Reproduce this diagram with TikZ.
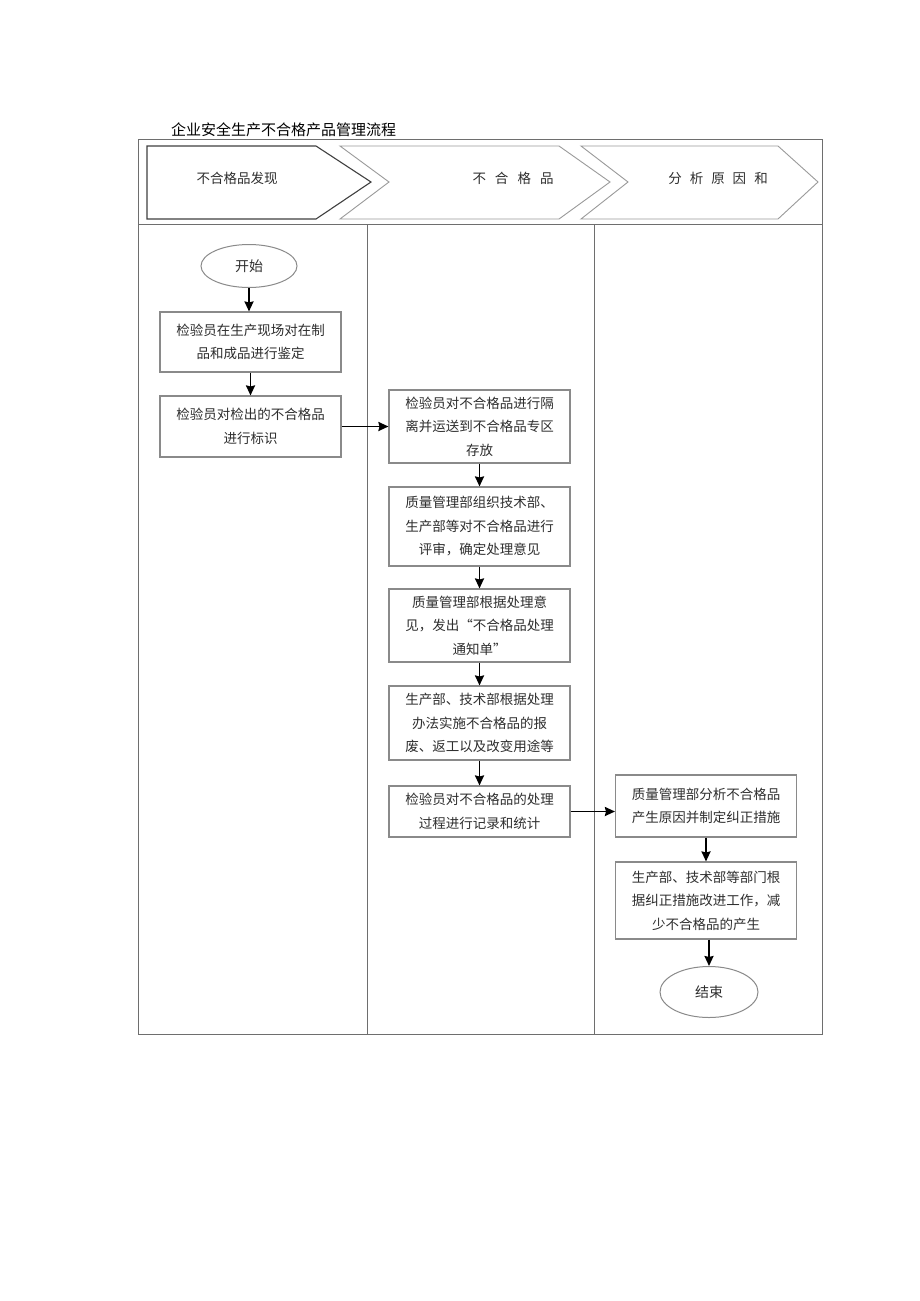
\documentclass[tikz,border=0pt]{standalone}
\usepackage{fontspec}
\newfontfamily\cjk{Noto Sans CJK SC}
\usetikzlibrary{shapes.geometric,arrows.meta}
\definecolor{framegray}{HTML}{6E6E6E}
\definecolor{boxgray}{HTML}{8A8A8A}
\definecolor{chevgray}{HTML}{9A9A9A}
\definecolor{txt}{HTML}{2E2E2E}
\begin{document}
\begin{tikzpicture}[x=1pt,y=-1pt,
  flowbox/.style={draw=boxgray, line width=1.1pt, rectangle, minimum width=181, inner sep=0pt,
    align=center, text=txt, font=\cjk\fontsize{13.5}{23.5}\selectfont},
  oval/.style={draw=boxgray, line width=1pt, ellipse, minimum width=96, minimum height=43,
    inner sep=0pt, text=txt, font=\cjk\fontsize{14}{16}\selectfont},
  arr/.style={draw=black, line width=1.9pt, -{Stealth[length=10pt,width=9pt,inset=1pt]}},
  headtxt/.style={text=txt, font=\cjk\fontsize{13.5}{16}\selectfont, inner sep=0pt},
  lane/.style={draw=framegray, line width=0.9pt}]
\useasboundingbox (0,0) rectangle (920,1301);
\fill[white] (0,0) rectangle (920,1301);

% title
\node[anchor=west, inner sep=0pt, font=\cjk\fontsize{15}{17}\selectfont, text=black] (title) at (171,130) {企业安全生产不合格产品管理流程};

% frame and lanes
\draw[lane] (138,139) rectangle (822,1034);
\draw[lane] (138,224) -- (822,224);
\draw[lane] (367,224) -- (367,1034);
\draw[lane] (594,224) -- (594,1034);

% header chevrons
\draw[line width=1.1pt, draw=black!75] (147,146) -- (316,146) -- (371,182) -- (316,219) -- (147,219) -- cycle;
\draw[line width=0.9pt, draw=chevgray] (340,146) -- (559,146) -- (610,182) -- (559,219) -- (340,219) -- (389,182) -- cycle;
\draw[line width=0.9pt, draw=chevgray] (581,146) -- (778,146) -- (818,182) -- (778,219) -- (581,219) -- (628,182) -- cycle;
\node[headtxt] (h1) at (237,178) {不合格品发现};
\node[headtxt] (h2) at (513,178) {不\hspace{9pt}合\hspace{9pt}格\hspace{9pt}品};
\node[headtxt] (h3) at (718,178) {分\hspace{8pt}析\hspace{8pt}原\hspace{8pt}因\hspace{8pt}和};

% lane 1
\node[oval] (start) at (249,266) {开始};
\node[flowbox, minimum height=60] (b1) at (250.5,342) {检验员在生产现场对在制\\品和成品进行鉴定};
\node[flowbox, minimum height=61] (b2) at (250.5,426.5) {检验员对检出的不合格品\\进行标识};

% lane 2
\node[flowbox, minimum height=73] (b3) at (479.5,426.5) {检验员对不合格品进行隔\\离并运送到不合格品专区\\存放};
\node[flowbox, minimum height=79] (b4) at (479.5,526.5) {质量管理部组织技术部、\\生产部等对不合格品进行\\评审，确定处理意见};
\node[flowbox, minimum height=73] (b5) at (479.5,625.5) {质量管理部根据处理意\\见，发出“不合格品处理\\通知单”};
\node[flowbox, minimum height=74] (b6) at (479.5,723) {生产部、技术部根据处理\\办法实施不合格品的报\\废、返工以及改变用途等};
\node[flowbox, minimum height=51] (b7) at (479.5,811.5) {检验员对不合格品的处理\\过程进行记录和统计};

% lane 3
\node[flowbox, minimum height=62] (b8) at (706,806) {质量管理部分析不合格品\\产生原因并制定纠正措施};
\node[flowbox, minimum height=77] (b9) at (706,900.5) {生产部、技术部等部门根\\据纠正措施改进工作，减\\少不合格品的产生};
\node[oval, minimum width=98, minimum height=51] (end) at (709,992) {结束};

% connectors
\draw[arr] (start.south) -- (start.south |- b1.north);
\draw[arr] (b1.south) -- (b2.north);
\draw[arr] (b2.east) -- (b3.west);
\draw[arr] (b3.south) -- (b4.north);
\draw[arr] (b4.south) -- (b5.north);
\draw[arr] (b5.south) -- (b6.north);
\draw[arr] (b6.south) -- (b7.north);
\draw[arr] (b7.east) -- (b7.east -| b8.west);
\draw[arr] (b8.south) -- (b9.north);
\draw[arr] (end.north |- b9.south) -- (end.north);
\end{tikzpicture}
\end{document}
